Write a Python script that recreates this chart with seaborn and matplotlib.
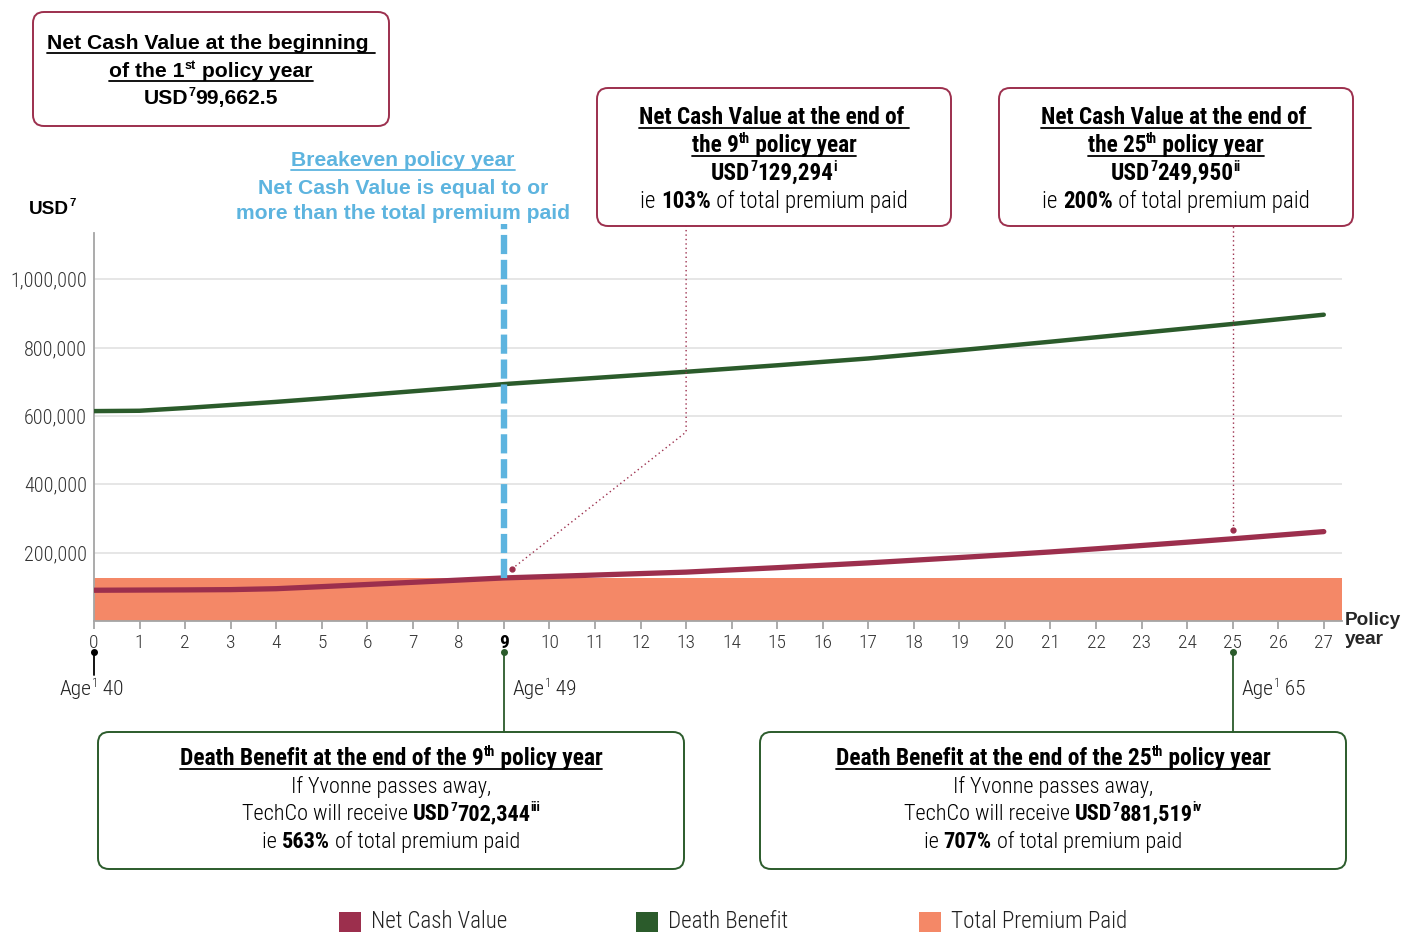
import pandas as pd
import seaborn as sns
import matplotlib.pyplot as plt
from matplotlib import font_manager as fm
from matplotlib.patches import FancyBboxPatch, Rectangle

# values
years = list(range(28))
net_cash_value = [90000, 90500, 91000, 91800, 94500, 100500, 106800, 113200, 119600, 126000,
                  130200, 134400, 138700, 143000, 149500, 156000, 163000, 170000, 177800, 185600,
                  193700, 202000, 211200, 220800, 230500, 240500, 251000, 261500]
death_benefit = [614000, 615000, 623000, 632000, 641000, 651000, 661500, 672000, 682500, 693000,
                 702000, 711000, 720000, 729000, 738500, 748000, 758000, 768000, 780000, 792000,
                 804500, 817000, 830000, 843000, 856000, 869000, 882500, 896000]
total_premium = 125500
y_ticks = [200000, 400000, 600000, 800000, 1000000]
breakeven_year = 9
age_years = [0, 9, 25]
ages = [40, 49, 65]

C_NCV = '#9c2f4d'
C_DB = '#2b5b2b'
C_PREM = '#f48867'
C_BLUE = '#5db4df'
C_AXIS = '#a5a5a5'


def pick(names):
    for n in names:
        try:
            fm.findfont(fm.FontProperties(family=n), fallback_to_default=False)
            return n
        except ValueError:
            pass
    return 'DejaVu Sans'


NARROW = pick(['Liberation Sans Narrow', 'Roboto Condensed', 'Liberation Sans'])
SANS = pick(['Liberation Sans', 'DejaVu Sans'])
LIGHT = 300

sns.set_theme(style='white')
plt.rcParams['font.family'] = [NARROW, 'DejaVu Sans']

df = pd.DataFrame({'year': years, 'Net Cash Value': net_cash_value, 'Death Benefit': death_benefit})

fig = plt.figure(figsize=(14.02, 9.32), dpi=100)
ax = fig.add_axes([94 / 1402, 1 - 621 / 932, (1342 - 94) / 1402, (621 - 233) / 932])
ax.set_xlim(0, 27.4)
ax.set_ylim(0, 1135000)

ax.axhspan(0, total_premium, color=C_PREM, zorder=1, lw=0)
sns.lineplot(data=df, x='year', y='Death Benefit', ax=ax, color=C_DB, lw=3.2, zorder=3)
sns.lineplot(data=df, x='year', y='Net Cash Value', ax=ax, color=C_NCV, lw=3.8, zorder=3)
ax.plot([breakeven_year, breakeven_year], [total_premium, 1160000], color=C_BLUE, lw=4.6,
        dashes=(3, 0.9), dash_capstyle='butt', clip_on=False, zorder=4)

ax.set_yticks(y_ticks)
ax.set_yticklabels([f'{v:,}' for v in y_ticks])
ax.yaxis.grid(True, color='#e2e2e2', lw=1.2)
ax.set_axisbelow(True)
ax.set_xticks(years)
ax.set_xlabel('')
ax.set_ylabel('')
for s in ['top', 'right']:
    ax.spines[s].set_visible(False)
for s in ['left', 'bottom']:
    ax.spines[s].set_color(C_AXIS)
    ax.spines[s].set_linewidth(1.3)
ax.tick_params(axis='y', length=0, pad=5, labelsize=14.5, labelcolor='#333333')
ax.tick_params(axis='x', length=6, width=1.3, color=C_AXIS, pad=3, labelsize=14,
               labelcolor='#333333', bottom=True)
for lab in ax.get_xticklabels() + ax.get_yticklabels():
    lab.set_fontweight(LIGHT)
ax.get_xticklabels()[breakeven_year].set_fontweight('bold')
ax.get_xticklabels()[breakeven_year].set_color('black')

# overlay in pixel units for the annotations
ov = fig.add_axes([0, 0, 1, 1], zorder=5)
ov.set_xlim(0, 1402)
ov.set_ylim(932, 0)
ov.axis('off')
ov.patch.set_alpha(0)
R = fig.canvas.get_renderer()


def to_px(x, y):
    d = ax.transData.transform((x, y))
    return d[0], 932 - d[1]


def fit(text, target, family, bold=False):
    t = ov.text(0, 0, text, fontsize=20, family=family, fontweight='bold' if bold else LIGHT)
    w = t.get_window_extent(R).width
    t.remove()
    return 20 * target / w


def rich(x, yb, runs, size, family, color='black', underline=False, ha='center'):
    parts = []
    for txt, bold, sup in runs:
        t = ov.text(0, yb, txt, fontsize=size * 0.6 if sup else size, family=family,
                    fontweight='bold' if bold else LIGHT, color=color, va='baseline', ha='left')
        parts.append((t, t.get_window_extent(R).width, sup))
    total = sum(p[1] for p in parts)
    x0 = x - total / 2 if ha == 'center' else x
    cx = x0
    for t, w, sup in parts:
        t.set_position((cx, yb - size * 0.55 if sup else yb))
        cx += w
    if underline:
        ov.plot([x0, x0 + total], [yb + 3.5, yb + 3.5], color=color, lw=1.3)


def box(x0, y0, x1, y1, color):
    ov.add_patch(FancyBboxPatch((x0, y0), x1 - x0, y1 - y0, boxstyle='round,pad=0,rounding_size=11',
                                fc='white', ec=color, lw=1.4))


# top-left box
box(33, 12, 389, 126, C_NCV)
s1 = fit('Net Cash Value at the beginning', 321, SANS, True)
rich(211, 49, [('Net Cash Value at the beginning ', True, False)], s1, SANS, underline=True)
rich(211, 77, [('of the 1', True, False), ('st', True, True), (' policy year', True, False)], s1, SANS,
     underline=True)
rich(211, 104, [('USD', True, False), ('7', True, True), ('99,662.5', True, False)], s1, SANS)

# NCV boxes at year 9 and 25
st = fit('Net Cash Value at the end of', 284, NARROW, True) * 0.93
sb = fit('ie 103% of total premium paid', 276, NARROW) * 0.96
for cx, yr, val, note, pct in [(774, '9', '129,294', 'i', '103%'), (1176, '25', '249,950', 'ii', '200%')]:
    box(cx - 177, 88, cx + 177, 226, C_NCV)
    rich(cx, 124, [('Net Cash Value at the end of ', True, False)], st, NARROW, underline=True)
    rich(cx, 152, [('the ' + yr, True, False), ('th', True, True), (' policy year', True, False)], st, NARROW,
         underline=True)
    rich(cx, 180, [('USD', True, False), ('7', True, True), (val, True, False), (note, True, True)], st, NARROW)
    rich(cx, 208, [('ie ', False, False), (pct, True, False), (' of total premium paid', False, False)], sb, NARROW)

# connectors from NCV boxes
dx, dy = to_px(9, net_cash_value[9])
dx, dy = dx + 8, dy - 9
bx = to_px(13, 0)[0]
ov.plot([dx, bx, bx], [dy, 432, 226], color=C_NCV, lw=1, ls=(0, (1, 2.2)))
ov.plot(dx, dy, 'o', color=C_NCV, ms=3.5)
ex, ey = to_px(25, net_cash_value[25])
ey -= 9
ov.plot([ex, ex], [ey, 226], color=C_NCV, lw=1, ls=(0, (1, 2.2)))
ov.plot(ex, ey, 'o', color=C_NCV, ms=3.5)

# breakeven text
sbe = fit('more than the total premium paid', 335, SANS, True)
rich(403, 166, [('Breakeven policy year', True, False)], sbe, SANS, color=C_BLUE, underline=True)
rich(403, 194, [('Net Cash Value is equal to or', True, False)], sbe, SANS, color=C_BLUE)
rich(403, 219, [('more than the total premium paid', True, False)], sbe, SANS, color=C_BLUE)

# axis labels
sax = fit('Policy', 56, SANS, True)
rich(29, 214, [('USD', True, False), ('7', True, True)], sax, SANS, ha='left')
ov.text(1345, 625, 'Policy', fontsize=sax, family=SANS, fontweight='bold', va='baseline')
ov.text(1345, 644, 'year', fontsize=sax, family=SANS, fontweight='bold', va='baseline')

# age markers
sage = fit('Age1 40', 68, NARROW)
for yr, age in zip(age_years, ages):
    px = to_px(yr, 0)[0]
    col = 'black' if yr == 0 else C_DB
    end = 675 if yr == 0 else 732
    ov.plot([px, px], [652, end], color=col, lw=1.3)
    ov.plot(px, 652, 'o', color=col, ms=4)
    lx = px - 34 if yr == 0 else px + 9
    rich(lx, 695, [('Age', False, False), ('1', False, True), (' ' + str(age), False, False)], sage, NARROW,
         color='#222222', ha='left')

# death benefit boxes
sdt = fit('Death Benefit at the end of the 9th policy year', 453, NARROW, True) * 0.95
sdb = fit('If Yvonne passes away,', 207, NARROW) * 0.97
for cx, yr, val, note, pct in [(391, '9', '702,344', 'iii', '563%'), (1053, '25', '881,519', 'iv', '707%')]:
    box(cx - 293, 732, cx + 293, 869, C_DB)
    rich(cx, 765, [('Death Benefit at the end of the ' + yr, True, False), ('th', True, True),
                   (' policy year', True, False)], sdt, NARROW, underline=True)
    rich(cx, 793, [('If Yvonne passes away,', False, False)], sdb, NARROW)
    rich(cx, 820, [('TechCo will receive ', False, False), ('USD', True, False), ('7', True, True),
                   (val, True, False), (note, True, True)], sdb, NARROW)
    rich(cx, 848, [('ie ', False, False), (pct, True, False), (' of total premium paid', False, False)], sdb,
         NARROW)

# legend
sleg = fit('Net Cash Value', 139, NARROW) * 0.98
for lx, col, lab in [(339, C_NCV, 'Net Cash Value'), (636, C_DB, 'Death Benefit'),
                     (919, C_PREM, 'Total Premium Paid')]:
    ov.add_patch(Rectangle((lx, 912), 22, 22, color=col, lw=0))
    ov.text(lx + 32, 928, lab, fontsize=sleg, family=NARROW, fontweight=LIGHT, color='#222222',
            va='baseline')

fig.savefig('out.png', dpi=100)
